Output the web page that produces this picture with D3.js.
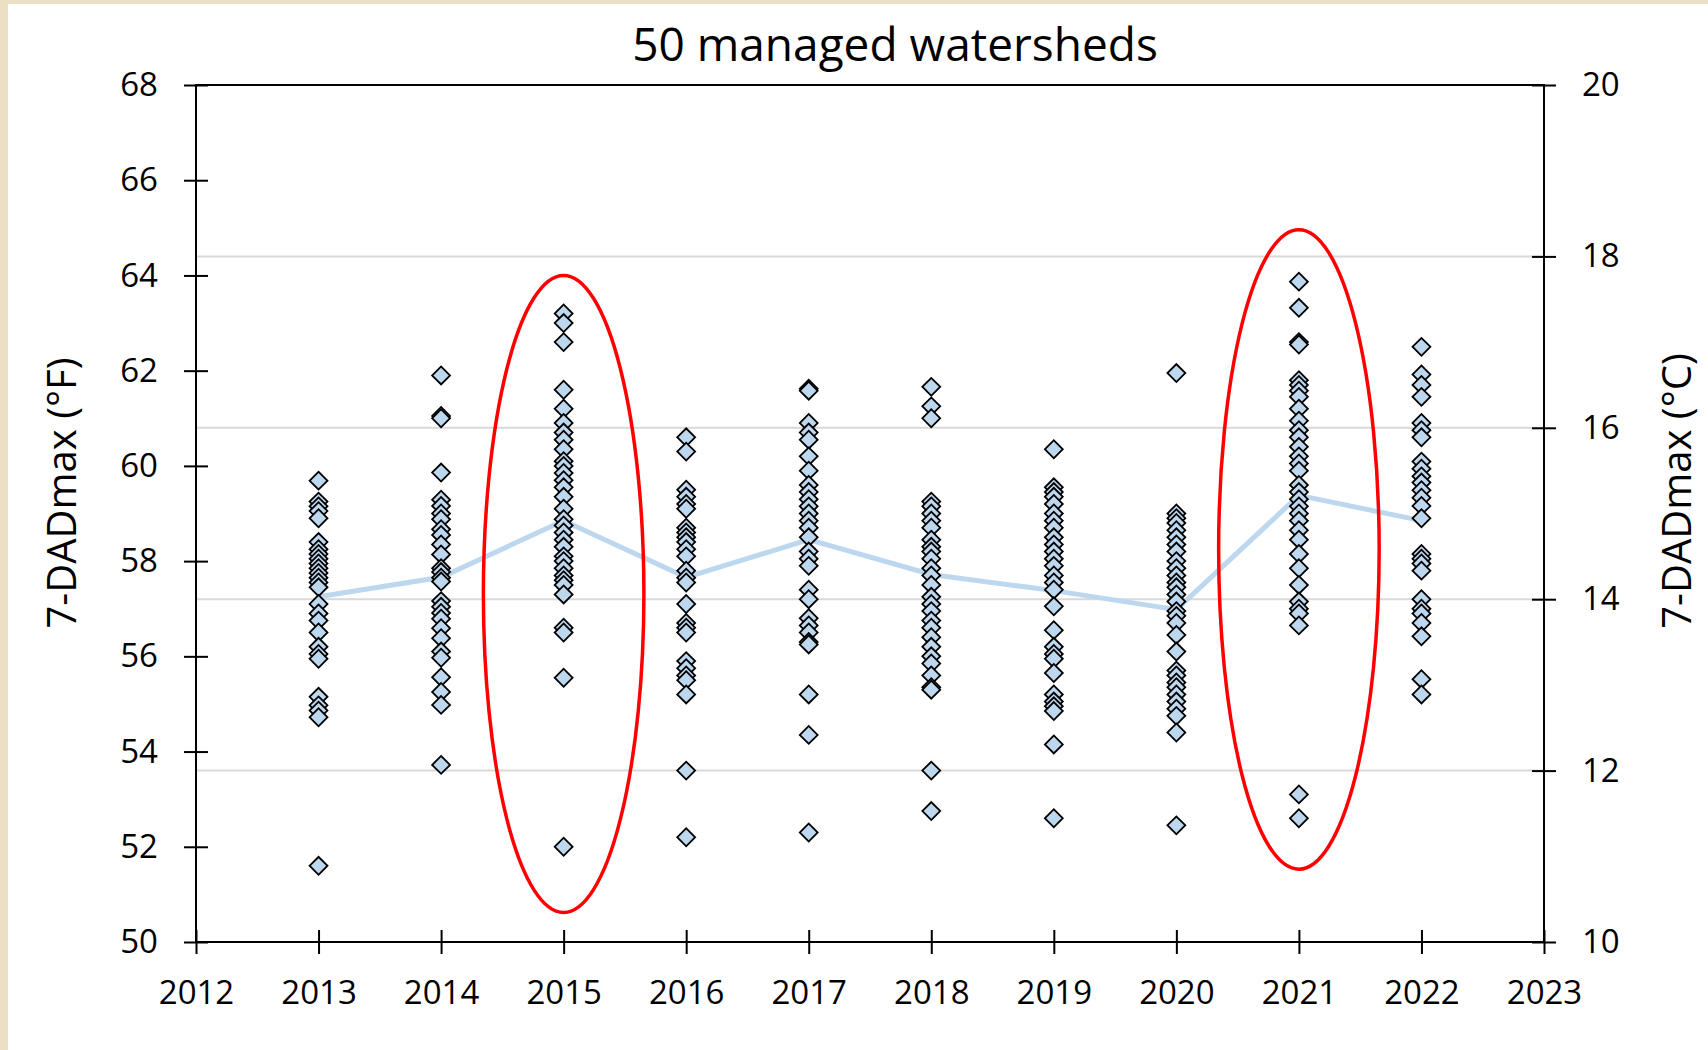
<!DOCTYPE html>
<html>
<head>
<meta charset="utf-8">
<script src="https://cdn.jsdelivr.net/npm/d3@7"></script>
<style>
  body { margin: 0; background: #ffffff; }
  text { font-family: "Open Sans", sans-serif; fill: #000000; }
</style>
</head>
<body>
<div id="chart"></div>
<script>
// Years on the x axis
var years = [2013, 2014, 2015, 2016, 2017, 2018, 2019, 2020, 2021, 2022]

// 7-DADmax (°F) of each watershed, one list per year
var t2013 = [59.69, 59.25, 59.15, 59.05, 58.9, 58.4, 58.25, 58.15, 58.05, 57.95, 57.85, 57.75, 57.65, 57.55, 57.45,
    57.1, 56.9, 56.75, 56.5, 56.2, 56.05, 55.95, 55.15, 54.97, 54.86, 54.72, 51.6]
var t2014 = [61.9, 61.05, 61.0, 59.86, 59.29, 59.16, 59.0, 58.88, 58.67, 58.55, 58.35, 58.14, 57.85, 57.77, 57.65,
    57.57, 57.16, 57.04, 56.91, 56.79, 56.59, 56.38, 56.1, 55.97, 55.56, 55.25, 54.98, 53.72]
var t2015 = [63.2, 63.0, 62.6, 61.6, 61.2, 60.9, 60.7, 60.55, 60.35, 60.1, 60.0, 59.85, 59.7, 59.55, 59.35, 59.1,
    58.88, 58.75, 58.6, 58.45, 58.3, 58.1, 58.0, 57.85, 57.7, 57.6, 57.5, 57.3, 56.6, 56.5, 55.55, 52.0]
var t2016 = [60.6, 60.3, 59.5, 59.35, 59.2, 59.1, 58.7, 58.6, 58.5, 58.4, 58.25, 58.1, 57.8, 57.65, 57.55, 57.1,
    56.7, 56.6, 56.5, 55.9, 55.75, 55.6, 55.5, 55.2, 53.6, 52.2]
var t2017 = [61.62, 61.58, 60.9, 60.7, 60.55, 60.2, 59.9, 59.6, 59.45, 59.3, 59.15, 59.0, 58.85, 58.7, 58.5, 58.2,
    58.05, 57.9, 57.4, 57.2, 56.8, 56.65, 56.5, 56.3, 56.25, 55.2, 54.35, 52.3]
var t2018 = [61.66, 61.25, 61.0, 59.25, 59.15, 59.0, 58.85, 58.7, 58.45, 58.3, 58.2, 58.05, 57.85, 57.7, 57.5,
    57.25, 57.1, 56.95, 56.75, 56.6, 56.4, 56.2, 56.0, 55.85, 55.6, 55.35, 55.3, 53.6, 52.75]
var t2019 = [60.35, 59.55, 59.45, 59.35, 59.2, 59.0, 58.85, 58.7, 58.5, 58.35, 58.2, 58.05, 57.9, 57.7, 57.55,
    57.4, 57.05, 56.55, 56.2, 56.05, 55.95, 55.65, 55.2, 55.05, 54.95, 54.85, 54.15, 52.6]
var t2020 = [61.95, 59.0, 58.9, 58.8, 58.65, 58.5, 58.35, 58.2, 58.0, 57.85, 57.7, 57.55, 57.45, 57.3, 57.15,
    56.95, 56.85, 56.7, 56.45, 56.1, 55.7, 55.6, 55.45, 55.35, 55.2, 55.05, 54.9, 54.75, 54.4, 52.45]
var t2021 = [63.87, 63.32, 62.6, 62.55, 61.8, 61.7, 61.58, 61.45, 61.2, 60.95, 60.75, 60.6, 60.4, 60.2, 60.05,
    59.9, 59.6, 59.45, 59.3, 59.15, 59.0, 58.85, 58.65, 58.45, 58.15, 57.85, 57.5, 57.15, 57.0, 56.9, 56.65, 53.1, 52.6]
var t2022 = [62.5, 61.92, 61.7, 61.45, 60.9, 60.75, 60.6, 60.09, 59.94, 59.78, 59.65, 59.49, 59.33, 59.16, 58.9,
    58.15, 58.05, 57.95, 57.8, 57.2, 57.0, 56.9, 56.7, 56.42, 55.52, 55.2]
var allTemps = [t2013, t2014, t2015, t2016, t2017, t2018, t2019, t2020, t2021, t2022]

// Mean of each year (the light blue line)
var annualMean = [57.25, 57.66, 58.85, 57.66, 58.45, 57.72, 57.38, 56.98, 59.38, 58.85]

// Tick labels
var yearTicks = [2012, 2013, 2014, 2015, 2016, 2017, 2018, 2019, 2020, 2021, 2022, 2023]
var fTicks = [50, 52, 54, 56, 58, 60, 62, 64, 66, 68]
var cTicks = [10, 12, 14, 16, 18, 20]

// Circled years and the °F range each red ring covers
var ringYears = [2015, 2021]
var ringLow = [50.62, 51.53]
var ringHigh = [64.0, 64.96]

// Page and plot area
var W = 1708, H = 1050
var plot = { left: 196, right: 1544, top: 85, bottom: 942 }

var svg = d3.select("#chart")
    .append("svg")
    .attr("width", W)
    .attr("height", H)

// beige frame at the left and top edge
svg.append("rect").attr("width", W).attr("height", H).attr("fill", "#ebdfc4")
svg.append("rect").attr("x", 8).attr("y", 4).attr("width", W - 8).attr("height", H - 4).attr("fill", "#ffffff")

// ----------------- //
// Scales
// ----------------- //
var x = d3.scaleLinear().domain([2012, 2023]).range([plot.left, plot.right])
var y = d3.scaleLinear().domain([50, 68]).range([plot.bottom, plot.top])
var yC = d3.scaleLinear().domain([10, 20]).range([plot.bottom, plot.top])

// gridlines come from the °C axis
svg.append("g")
    .selectAll("line")
    .data(cTicks.filter(function(d) { return d > 10 && d < 20 }))
    .enter()
    .append("line")
    .attr("x1", plot.left)
    .attr("x2", plot.right)
    .attr("y1", function(d) { return yC(d) })
    .attr("y2", function(d) { return yC(d) })
    .attr("stroke", "#d9d9d9")
    .attr("stroke-width", 2)

// ------------------------------- //
// Axes
// ------------------------------- //
var fontTick = "33px"

var leftAxis = svg.append("g")
    .attr("transform", "translate(" + plot.left + ",0)")
    .call(d3.axisLeft(y).tickValues(fTicks).tickSize(12).tickPadding(26).tickFormat(d3.format("d")))
leftAxis.selectAll(".tick line").attr("x1", 12)

var rightAxis = svg.append("g")
    .attr("transform", "translate(" + plot.right + ",0)")
    .call(d3.axisRight(yC).tickValues(cTicks).tickSize(12).tickPadding(26).tickFormat(d3.format("d")))
rightAxis.selectAll(".tick line").attr("x1", -12)

var bottomAxis = svg.append("g")
    .attr("transform", "translate(0," + plot.bottom + ")")
    .call(d3.axisBottom(x).tickValues(yearTicks).tickSize(12).tickPadding(27).tickFormat(d3.format("d")))
bottomAxis.selectAll(".tick line").attr("y1", -12)

svg.selectAll(".domain").remove()
svg.selectAll(".tick line").attr("stroke", "#000").attr("stroke-width", 2)
svg.selectAll(".tick text")
    .attr("font-size", fontTick)
    .attr("font-family", "Open Sans")
    .attr("fill", "#000")

// plot frame
svg.append("rect")
    .attr("x", plot.left)
    .attr("y", plot.top)
    .attr("width", plot.right - plot.left)
    .attr("height", plot.bottom - plot.top)
    .attr("fill", "none")
    .attr("stroke", "#000")
    .attr("stroke-width", 2)

// ------------------------------- //
// Mean line, then the points on top
// ------------------------------- //
var line = d3.line()
    .x(function(d, i) { return x(years[i]) })
    .y(function(d) { return y(d) })

svg.append("path")
    .datum(annualMean)
    .attr("d", line)
    .attr("fill", "none")
    .attr("stroke", "#bdd7ee")
    .attr("stroke-width", 5)

var diamond = d3.symbol().type(d3.symbolSquare).size(160)

years.forEach(function(yr, i) {
    svg.append("g")
        .selectAll("path")
        .data(allTemps[i])
        .enter()
        .append("path")
        .attr("d", diamond)
        .attr("transform", function(d) { return "translate(" + x(yr) + "," + y(d) + ") rotate(45)" })
        .attr("fill", "#bdd7ee")
        .attr("stroke", "#000")
        .attr("stroke-width", 1.8)
})

// red rings round the warm years
var ringHalfWidth = 0.655
ringYears.forEach(function(yr, i) {
    svg.append("ellipse")
        .attr("cx", x(yr))
        .attr("cy", (y(ringLow[i]) + y(ringHigh[i])) / 2)
        .attr("rx", x(yr + ringHalfWidth) - x(yr))
        .attr("ry", (y(ringLow[i]) - y(ringHigh[i])) / 2)
        .attr("fill", "none")
        .attr("stroke", "#ff0000")
        .attr("stroke-width", 3.5)
})

// ------------------------------- //
// Titles
// ------------------------------- //
svg.append("text")
    .attr("x", 895)
    .attr("y", 61)
    .attr("text-anchor", "middle")
    .attr("font-size", "46px")
    .text("50 managed watersheds")

svg.append("text")
    .attr("transform", "translate(76,493) rotate(-90)")
    .attr("text-anchor", "middle")
    .attr("font-size", "40px")
    .text("7-DADmax (°F)")

svg.append("text")
    .attr("transform", "translate(1691,491) rotate(-90)")
    .attr("text-anchor", "middle")
    .attr("font-size", "40px")
    .text("7-DADmax (°C)")
</script>
</body>
</html>
